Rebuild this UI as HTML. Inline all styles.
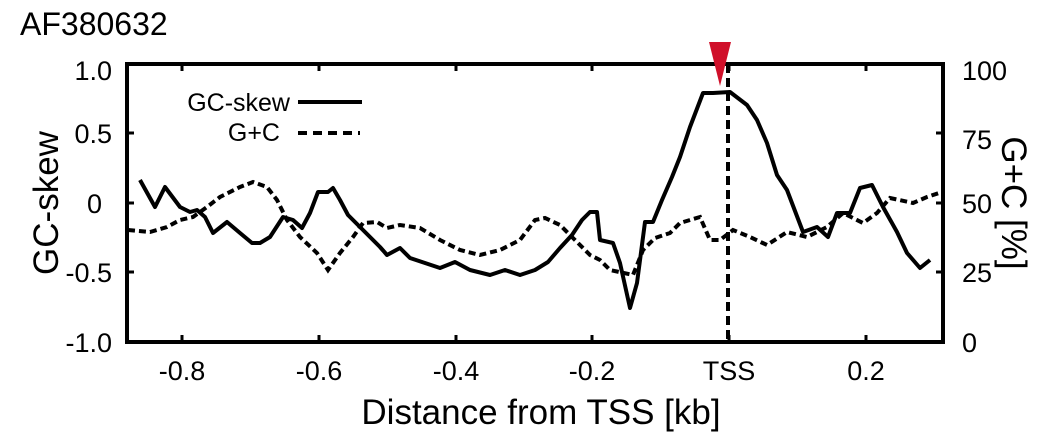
<!DOCTYPE html>
<html><head><meta charset="utf-8"><style>
html,body{margin:0;padding:0;background:#fff;}
svg{display:block;font-family:"Liberation Sans",sans-serif;}
</style></head><body>
<svg width="1056" height="439" viewBox="0 0 1056 439">
<text x="20" y="35" font-size="32">AF380632</text>
<g font-size="27" text-anchor="end">
<text x="112" y="80">1.0</text>
<text x="112" y="143">0.5</text>
<text x="102" y="213">0</text>
<text x="112" y="282">-0.5</text>
<text x="112" y="352">-1.0</text>
</g>
<g font-size="27" text-anchor="start">
<text x="962" y="80">100</text>
<text x="962" y="149">75</text>
<text x="962" y="213">50</text>
<text x="962" y="282">25</text>
<text x="962" y="352">0</text>
</g>
<g font-size="27" text-anchor="middle">
<text x="182" y="380">-0.8</text>
<text x="319" y="380">-0.6</text>
<text x="456" y="380">-0.4</text>
<text x="592" y="380">-0.2</text>
<text x="729" y="380">TSS</text>
<text x="866" y="380">0.2</text>
</g>
<text x="541" y="424" font-size="35" text-anchor="middle">Distance from TSS [kb]</text>
<text transform="translate(58,203) rotate(-90)" font-size="35" text-anchor="middle">GC-skew</text>
<text transform="translate(1002,203) rotate(90)" font-size="35" text-anchor="middle">G+C [%]</text>
<g stroke="#000" stroke-width="3">
<path d="M182 64v7M319 64v7M456 64v7M592 64v7M729 64v7M866 64v7M182 342v-7M319 342v-7M456 342v-7M592 342v-7M729 342v-7M866 342v-7"/>
<path d="M127 133h7M127 203h7M127 272h7M943 133h-7M943 203h-7M943 272h-7"/>
</g>
<line x1="728" y1="64" x2="728" y2="342" stroke="#000" stroke-width="4" stroke-dasharray="9,5"/>
<polyline fill="none" stroke="#000" stroke-width="4" stroke-dasharray="7,4" points="128,230 150,232 167,227 180,220 193,217 207,207 220,197 240,187 253,182 267,187 277,200 287,220 300,237 317,253 328,270 340,253 353,237 363,223 377,222 387,228 400,225 420,228 440,240 460,250 480,255 500,250 520,240 535,220 545,218 560,225 575,240 590,255 600,260 610,270 633,275 643,250 655,238 670,233 680,223 700,217 710,240 720,240 733,230 750,237 767,245 787,232 807,237 827,227 843,213 863,223 877,213 890,198 913,203 927,197 942,192"/>
<polyline fill="none" stroke="#000" stroke-width="4" stroke-linejoin="round" points="140,180 155,207 165,187 180,207 190,212 197,210 205,217 213,233 227,222 240,233 252,243 260,243 270,237 283,217 293,220 302,228 310,213 318,192 328,192 333,188 340,200 348,215 360,227 370,237 380,247 387,255 400,248 410,258 425,263 440,268 455,262 470,270 490,275 505,270 520,275 535,270 548,262 560,248 572,235 582,220 590,212 597,212 600,240 613,243 620,263 630,308 637,283 645,222 653,222 662,200 672,177 680,157 690,127 703,93 713,93 730,92 747,105 757,120 767,143 777,175 787,190 803,232 817,227 828,237 837,213 850,213 860,188 872,185 883,207 897,232 907,253 920,268 930,260"/>
<rect x="127" y="64" width="816" height="278" fill="none" stroke="#000" stroke-width="4"/>
<text x="290" y="111" font-size="25" text-anchor="end">GC-skew</text>
<line x1="298" y1="102" x2="362" y2="102" stroke="#000" stroke-width="4"/>
<text x="280" y="141" font-size="25" text-anchor="end">G+C</text>
<line x1="298" y1="133" x2="360" y2="133" stroke="#000" stroke-width="4" stroke-dasharray="9,6"/>
<polygon points="709,42 731,42 720,86" fill="#d0102a"/>
</svg>
</body></html>
